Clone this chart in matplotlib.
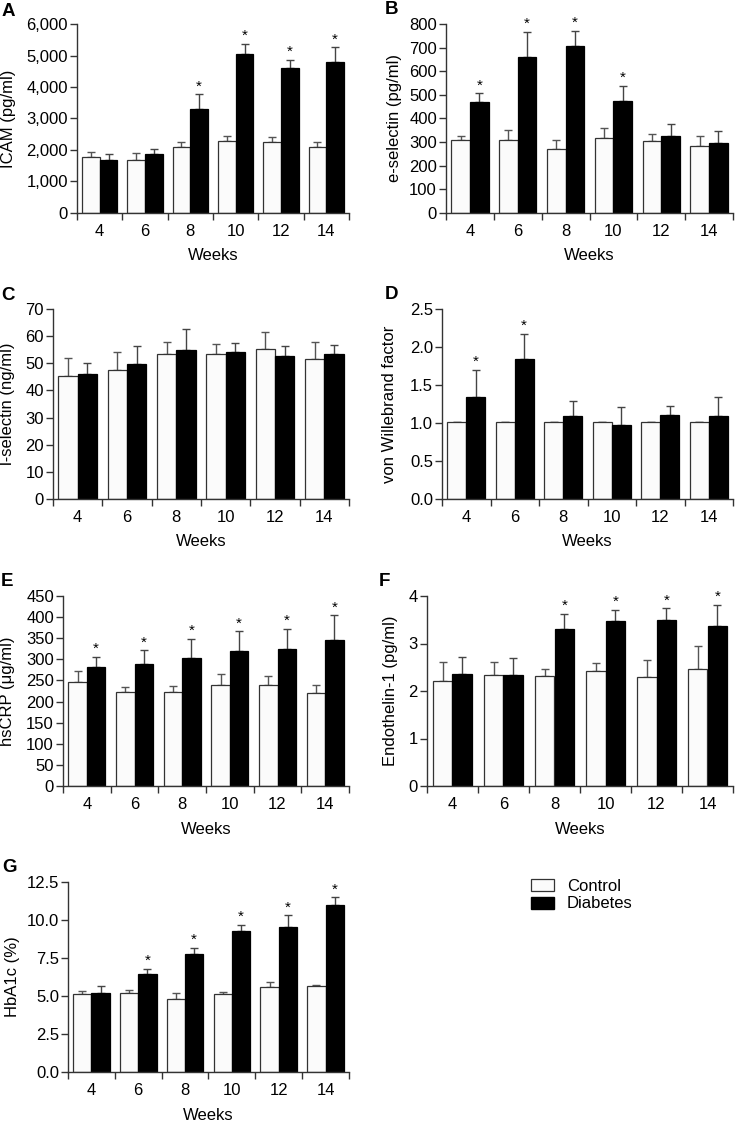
import numpy as np
import matplotlib
matplotlib.use("Agg")
import matplotlib.pyplot as plt
from matplotlib.patches import Patch
from matplotlib.ticker import FuncFormatter

plt.rcParams['font.family'] = ['Liberation Sans', 'DejaVu Sans']

weeks = ['4', '6', '8', '10', '12', '14']

# A: ICAM
icam_ctrl = [1775, 1680, 2090, 2280, 2250, 2090]
icam_ctrl_err = [170, 220, 150, 150, 170, 150]
icam_dm = [1680, 1870, 3300, 5060, 4615, 4795]
icam_dm_err = [180, 160, 465, 320, 245, 465]
icam_sig = [False, False, True, True, True, True]

# B: e-selectin
esel_ctrl = [307, 308, 270, 317, 303, 285]
esel_ctrl_err = [17, 42, 37, 44, 30, 40]
esel_dm = [468, 661, 707, 472, 328, 296]
esel_dm_err = [38, 107, 65, 65, 49, 53]
esel_sig = [True, True, True, True, False, False]

# C: l-selectin
lsel_ctrl = [45.5, 47.7, 53.3, 53.3, 55.2, 51.5]
lsel_ctrl_err = [6.4, 6.3, 4.6, 3.8, 6.5, 6.3]
lsel_dm = [46.0, 49.8, 55.0, 54.3, 52.7, 53.5]
lsel_dm_err = [4.0, 6.7, 7.5, 3.0, 3.8, 3.3]
lsel_sig = [False] * 6

# D: von Willebrand factor
vwf_ctrl = [1.01, 1.01, 1.01, 1.01, 1.01, 1.01]
vwf_ctrl_err = [0, 0, 0, 0, 0, 0]
vwf_dm = [1.34, 1.84, 1.09, 0.98, 1.10, 1.09]
vwf_dm_err = [0.36, 0.33, 0.20, 0.23, 0.13, 0.25]
vwf_sig = [True, True, False, False, False, False]

# E: hsCRP
crp_ctrl = [247, 222, 222, 239, 239, 221]
crp_ctrl_err = [26, 13, 14, 27, 22, 19]
crp_dm = [281, 288, 304, 320, 325, 345]
crp_dm_err = [25, 33, 45, 46, 48, 59]
crp_sig = [True] * 6

# F: Endothelin-1
et_ctrl = [2.22, 2.33, 2.31, 2.42, 2.29, 2.47]
et_ctrl_err = [0.39, 0.28, 0.16, 0.17, 0.37, 0.47]
et_dm = [2.35, 2.33, 3.31, 3.48, 3.49, 3.37]
et_dm_err = [0.37, 0.37, 0.31, 0.23, 0.25, 0.45]
et_sig = [False, False, True, True, True, True]

# G: HbA1c
hba_ctrl = [5.11, 5.20, 4.80, 5.11, 5.57, 5.64]
hba_ctrl_err = [0.22, 0.17, 0.37, 0.17, 0.35, 0.06]
hba_dm = [5.18, 6.43, 7.79, 9.30, 9.54, 10.96]
hba_dm_err = [0.50, 0.37, 0.39, 0.39, 0.77, 0.53]
hba_sig = [False, True, True, True, True, True]

W, H = 748, 1123
fig = plt.figure(figsize=(W / 100, H / 100), dpi=100)

edge = '#333333'
ctrl_face = '#fbfbfb'
fs = 12


def panel(letter, letter_xy, box, ylabel_x, ctrl, ctrl_err, dm, dm_err, sig,
          ymax, yticks, ylabel, fmt):
    left, right, top, bottom = box
    ax = fig.add_axes([left / W, 1 - bottom / H, (right - left) / W, (bottom - top) / H])
    x = np.arange(len(weeks))
    bw = 0.39
    ax.bar(x - 0.195, ctrl, bw, color=ctrl_face, edgecolor=edge, linewidth=0.9, zorder=2)
    ax.bar(x + 0.195, dm, bw, color='black', edgecolor='black', linewidth=0.9, zorder=2)
    z = np.zeros(len(weeks))
    ax.errorbar(x - 0.195, ctrl, yerr=[z, ctrl_err], fmt='none', ecolor='#555555',
                elinewidth=1, capsize=3, capthick=1, zorder=1)
    ax.errorbar(x + 0.195, dm, yerr=[z, dm_err], fmt='none', ecolor='#444444',
                elinewidth=1, capsize=3, capthick=1, zorder=1)
    for i in range(len(weeks)):
        if sig[i]:
            ax.text(x[i] + 0.195, dm[i] + dm_err[i] + ymax * 0.005, '*',
                    ha='center', va='bottom', fontsize=11)
    ax.set_xlim(-0.5, len(weeks) - 0.5)
    ax.set_ylim(0, ymax)
    ax.set_yticks(yticks)
    ax.yaxis.set_major_formatter(FuncFormatter(fmt))
    ax.set_xticks(x)
    ax.set_xticklabels(weeks)
    ax.set_xticks(np.arange(-0.5, len(weeks)), minor=True)
    ax.tick_params(axis='x', which='major', length=0, labelsize=fs, pad=8)
    ax.tick_params(axis='x', which='minor', length=5, width=1, color=edge, direction='out')
    ax.tick_params(axis='y', length=5, width=1, color=edge, labelsize=12, pad=1.5)
    for s in ['top', 'right']:
        ax.spines[s].set_visible(False)
    for s in ['left', 'bottom']:
        ax.spines[s].set_linewidth(1)
        ax.spines[s].set_color(edge)
    fig.text(ylabel_x / W, 1 - (top + bottom) / 2 / H, ylabel, rotation=90,
             ha='center', va='center', fontsize=fs)
    fig.text((left + right) / 2 / W, 1 - (bottom + 43) / H, 'Weeks',
             ha='center', va='center', fontsize=fs)
    fig.text(letter_xy[0] / W, 1 - letter_xy[1] / H, letter,
             fontsize=13.5, fontweight='bold', va='center', ha='left')
    return ax


def comma(v, pos):
    return f'{int(v):,}'


def integer(v, pos):
    return f'{int(v)}'


def one_dec(v, pos):
    return f'{v:.1f}'


panel('A', (2, 12), (77, 349, 24, 213), 9, icam_ctrl, icam_ctrl_err, icam_dm, icam_dm_err,
      icam_sig, 6000, np.arange(0, 6001, 1000), 'ICAM (pg/ml)', comma)
panel('B', (385, 10), (446, 733, 24, 213), 394, esel_ctrl, esel_ctrl_err, esel_dm, esel_dm_err,
      esel_sig, 800, np.arange(0, 801, 100), 'e-selectin (pg/ml)', integer)
panel('C', (1, 296), (53, 349, 309, 499), 8, lsel_ctrl, lsel_ctrl_err, lsel_dm, lsel_dm_err,
      lsel_sig, 70, np.arange(0, 71, 10), 'l-selectin (ng/ml)', integer)
panel('D', (385, 295), (442, 733, 309, 499), 389, vwf_ctrl, vwf_ctrl_err, vwf_dm, vwf_dm_err,
      vwf_sig, 2.5, np.arange(0, 2.51, 0.5), 'von Willebrand factor', one_dec)
panel('E', (1, 582), (63, 349, 596, 786), 8, crp_ctrl, crp_ctrl_err, crp_dm, crp_dm_err,
      crp_sig, 450, np.arange(0, 451, 50), 'hsCRP (\u03bcg/ml)', integer)
panel('F', (379, 582), (427, 733, 596, 786), 391, et_ctrl, et_ctrl_err, et_dm, et_dm_err,
      et_sig, 4, np.arange(0, 5, 1), 'Endothelin-1 (pg/ml)', integer)
panel('G', (2, 868), (68, 349, 882, 1072), 13, hba_ctrl, hba_ctrl_err, hba_dm, hba_dm_err,
      hba_sig, 12.5, np.arange(0, 12.6, 2.5), 'HbA1c (%)', one_dec)

handles = [Patch(facecolor=ctrl_face, edgecolor=edge, linewidth=0.9, label='Control'),
           Patch(facecolor='black', edgecolor='black', label='Diabetes')]
fig.legend(handles=handles, loc='upper left', bbox_to_anchor=(531 / W, 1 - 879 / H),
           frameon=False, fontsize=fs, handlelength=1.35, handleheight=0.75,
           handletextpad=0.8, labelspacing=0.15, borderaxespad=0, borderpad=0)

fig.savefig('out.png', dpi=100)
